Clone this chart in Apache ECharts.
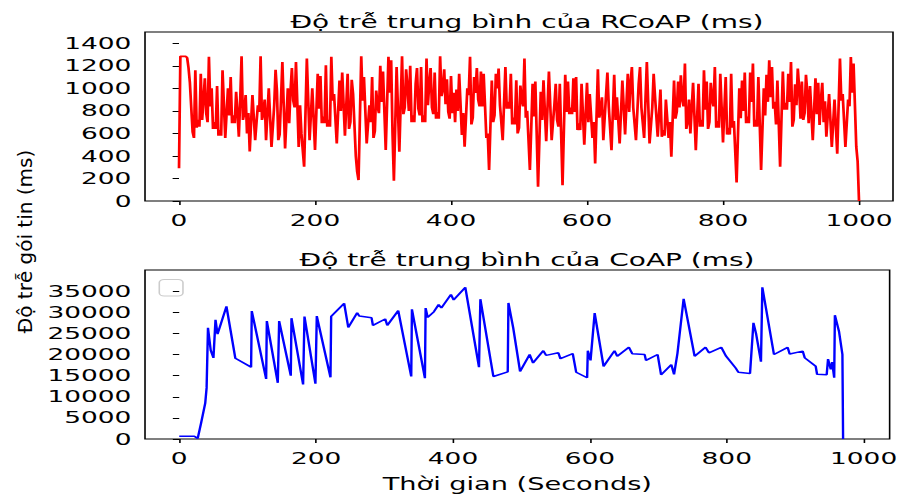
<!DOCTYPE html>
<html>
<head>
    <meta charset="utf-8">
    <title>Độ trễ RCoAP / CoAP</title>
    <script type="text/javascript" src="https://cdn.jsdelivr.net/npm/echarts@6/dist/echarts.min.js"></script>
    <style>
        html, body { margin: 0; padding: 0; background: #fff; overflow: hidden; }
        #wrap { width: 902px; height: 499px; overflow: hidden; }
        /* the source picture is stretched sideways, so the chart is drawn narrow and widened */
        #chart { width: 564px; height: 499px; transform: scaleX(1.5993); transform-origin: 0 0; }
    </style>
</head>
<body>
<div id="wrap"><div id="chart"></div></div>
<script type="text/javascript">
    // RCoAP readings at t = 0, 4, 8, ... 1000 s
    var rcoapStep = 4;
    var rcoapDelay = [
        290, 1284, 1284, 1270, 1050, 614, 1160, 720, 1130, 900, 780, 1280, 1000, 700, 1020, 630,
        1160, 560, 1000, 1100, 760, 970, 570, 1284, 780, 600, 440, 940, 540, 850, 1284, 780,
        540, 1000, 480, 850, 980, 590, 1234, 466, 1000, 980, 890, 1234, 480, 600, 304, 1264,
        540, 1000, 452, 1130, 1110, 750, 1204, 720, 1280, 950, 511, 1070, 1140, 580, 1130, 700,
        950, 400, 186, 1284, 1100, 510, 850, 1100, 620, 840, 1200, 1150, 452, 1280, 1250, 180,
        1190, 437, 1284, 830, 1010, 1200, 760, 1040, 820, 1190, 760, 1264, 1040, 830, 1140, 790,
        1284, 990, 860, 790, 1110, 960, 990, 1130, 585, 481, 1000, 1280, 740, 960, 900, 1150,
        1130, 560, 275, 1070, 760, 1000, 850, 540, 1190, 880, 1130, 740, 1072, 650, 900, 1264,
        800, 275, 1040, 1060, 127, 970, 1072, 530, 1150, 540, 850, 720, 1040, 141, 1120, 1060,
        830, 1090, 1100, 690, 1040, 500, 1050, 950, 560, 333, 1170, 800, 540, 940, 840, 450,
        1120, 920, 510, 1070, 590, 1130, 1050, 830, 540, 1040, 830, 560, 1234, 510, 830, 930,
        570, 990, 630, 900, 560, 393, 1070, 790, 830, 900, 1220, 700, 600, 1050, 450, 1040,
        720, 1160, 1060, 700, 900, 1190, 710, 1130, 520, 1100, 650, 1130, 710, 165, 1000, 1070,
        1140, 750, 1140, 1220, 720, 1100, 275, 1000, 1120, 1250, 1190, 880, 1070, 304, 1150, 870,
        1130, 1234, 720, 850, 1000, 1060, 780, 960, 1020, 540, 1090, 1050, 900, 700, 570, 950,
        480, 900, 420, 1264, 950, 480, 900, 1279, 1220, 480, 0
    ];
    // RCoAP readings in between, at t = 2, 6, 10, ... 998 s
    var rcoapDelayMid = [
        1284, 1284, 1284, 1180, 830, 560, 650, 660, 720, 1090,
        700, 840, 640, 640, 580, 580, 860, 780, 760, 690,
        690, 780, 900, 720, 940, 780, 700, 740, 700, 790,
        720, 900, 770, 740, 660, 1165, 540, 900, 850, 730,
        690, 1180, 830, 860, 850, 450, 780, 900, 770, 730,
        790, 820, 690, 690, 660, 660, 890, 730, 790, 800,
        860, 850, 640, 1075, 675, 260, 735, 890, 800, 680,
        700, 560, 980, 780, 880, 800, 860, 960, 600, 680,
        810, 860, 770, 1170, 800, 700, 700, 1180, 760, 700,
        700, 850, 1180, 770, 730, 730, 930, 1170, 1080, 730,
        780, 700, 800, 860, 780, 740, 940, 680, 1100, 1180,
        840, 840, 850, 600, 670, 700, 1130, 1175, 700, 865,
        820, 820, 680, 680, 600, 1025, 840, 740, 540, 650,
        750, 600, 550, 720, 800, 840, 845, 700, 1040, 660,
        590, 630, 790, 770, 770, 790, 630, 630, 770, 775,
        700, 755, 700, 750, 740, 920, 740, 1140, 645, 785,
        720, 715, 790, 830, 860, 790, 1190, 685, 790, 1190,
        695, 900, 870, 670, 1130, 750, 780, 570, 580, 730,
        700, 730, 730, 1060, 1115, 840, 640, 900, 825, 750,
        745, 660, 660, 810, 640, 1050, 840, 650, 650, 825,
        810, 590, 590, 650, 440, 580, 735, 800, 690, 690,
        880, 660, 660, 690, 640, 760, 880, 920, 820, 680,
        690, 730, 810, 810, 880, 660, 1035, 1175, 730, 720,
        1120, 690, 780, 815, 770, 675, 1050, 885, 760, 715,
        690, 660, 840, 890, 715, 690, 840, 960, 850, 350
    ];

    // CoAP: turning points of the blue line
    var coapTime = [
        0, 22, 27, 32, 38, 40, 42, 46, 50, 53, 56, 69, 82, 105, 106, 127, 128, 144, 146, 163,
        164, 181, 183, 199, 201, 221, 222, 241, 247, 260, 263, 281, 283, 301, 304, 320, 339, 340,
        359, 360, 363, 372, 379, 383, 397, 401, 418, 438, 440, 459, 480, 481, 488, 498, 512, 517,
        532, 536, 554, 557, 575, 580, 596, 597, 601, 607, 620, 636, 640, 657, 662, 680, 682, 699,
        704, 719, 723, 728, 737, 753, 769, 774, 792, 799, 813, 817, 834, 839, 843, 850, 852, 869,
        889, 892, 911, 914, 930, 932, 946, 948, 952, 954, 957, 958, 964, 969, 970
    ];
    var coapDelay = [
        650, 650, 150, 3800, 8500, 12100, 26300, 21000, 19200, 28200, 24800, 31400, 19100, 17000, 30300, 14200,
        27900, 13300, 27900, 15000, 28600, 12900, 29000, 13100, 29100, 14600, 29000, 32100, 26400, 29900, 29100,
        28700, 26900, 28400, 26900, 30400, 14800, 30700, 14400, 31000, 28800, 30100, 31800, 31000, 34200, 32900,
        35900, 17000, 33100, 14800, 15900, 32200, 26300, 16000, 20000, 18000, 20900, 19800, 20400, 19000, 20200,
        15800, 14500, 20900, 18600, 29800, 17200, 20900, 19600, 21700, 20200, 20000, 18600, 20000, 15200, 17600,
        15300, 20300, 33200, 19600, 21700, 20400, 21700, 19600, 16800, 15800, 15500, 27500, 24800, 18300, 35900,
        20000, 21700, 20100, 20800, 19200, 17200, 15300, 15200, 18900, 16500, 18200, 14500, 29300, 25500, 20000, 0
    ];

    var xTicks = [0, 200, 400, 600, 800, 1000];
    var rcoapTicks = [0, 200, 400, 600, 800, 1000, 1200, 1400];
    var coapTicks = [0, 5000, 10000, 15000, 20000, 25000, 30000, 35000];

    var titleTop = 'Độ trễ trung bình của RCoAP (ms)';
    var titleBottom = 'Độ trễ trung bình của CoAP (ms)';
    var xName = 'Thời gian (Seconds)';
    var yName = 'Độ trễ gói tin (ms)';

    var font = 'DejaVu Sans';

    var rcoapData = [];
    for (var i = 0; i < rcoapDelay.length; i++) {
        rcoapData.push([i * rcoapStep, rcoapDelay[i]]);
        if (i < rcoapDelayMid.length) {
            rcoapData.push([i * rcoapStep + rcoapStep / 2, rcoapDelayMid[i]]);
        }
    }
    var coapData = [];
    for (var j = 0; j < coapTime.length; j++) {
        coapData.push([coapTime[j], coapDelay[j]]);
    }

    function plain(v) {
        return String(v);
    }

    function xAxisOf(grid, max, name) {
        return {
            type: 'value',
            gridIndex: grid,
            min: -50,
            max: max,
            name: name,
            nameLocation: 'middle',
            nameGap: 36,
            nameTextStyle: {fontFamily: font, fontSize: 17, color: '#000'},
            axisLine: {show: false},
            axisTick: {show: true, length: 4, customValues: xTicks, lineStyle: {color: '#000'}},
            axisLabel: {customValues: xTicks, formatter: plain, margin: 11, fontFamily: font, fontSize: 16.5, color: '#000'},
            splitLine: {show: false}
        };
    }

    function yAxisOf(grid, max, ticks) {
        return {
            type: 'value',
            gridIndex: grid,
            min: 0,
            max: max,
            axisLine: {show: false},
            axisTick: {show: true, length: 4, customValues: ticks, lineStyle: {color: '#000'}},
            axisLabel: {customValues: ticks, formatter: plain, margin: 8.5, fontFamily: font, fontSize: 16.5, color: '#000'},
            splitLine: {show: false}
        };
    }

    var chart = echarts.init(document.getElementById('chart'), null, {renderer: 'svg'});
    var option = {
        animation: false,
        backgroundColor: '#fff',
        title: [{
            text: titleTop,
            left: 324.5,
            textAlign: 'center',
            top: 8,
            textStyle: {fontFamily: font, fontSize: 17.5, fontWeight: 'normal', color: '#000'}
        }, {
            text: titleBottom,
            left: 324.5,
            textAlign: 'center',
            top: 246,
            textStyle: {fontFamily: font, fontSize: 17.5, fontWeight: 'normal', color: '#000'}
        }],
        grid: [
            {left: 90.67, top: 32, width: 467.7, height: 169, show: true, borderColor: '#000', borderWidth: 1},
            {left: 90.67, top: 270, width: 467.7, height: 169, show: true, borderColor: '#000', borderWidth: 1}
        ],
        xAxis: [xAxisOf(0, 1050, ''), xAxisOf(1, 1038, xName)],
        yAxis: [yAxisOf(0, 1500, rcoapTicks), yAxisOf(1, 40000, coapTicks)],
        graphic: [{
            type: 'text',
            x: 15.6,
            y: 241.5,
            rotation: Math.PI / 2,
            scaleY: 0.63,
            style: {text: yName, fontFamily: font, fontSize: 20, fill: '#000', align: 'center', verticalAlign: 'middle'}
        }, {
            // empty legend frame
            type: 'rect',
            shape: {x: 99.6, y: 279.5, width: 14.8, height: 16.5, r: 3},
            style: {fill: '#fff', stroke: '#cccccc', lineWidth: 1}
        }],
        series: [{
            name: 'RCoAP',
            type: 'line',
            xAxisIndex: 0,
            yAxisIndex: 0,
            data: rcoapData,
            symbol: 'none',
            lineStyle: {color: '#ff0000', width: 1.7},
            itemStyle: {color: '#ff0000'}
        }, {
            name: 'CoAP',
            type: 'line',
            xAxisIndex: 1,
            yAxisIndex: 1,
            data: coapData,
            symbol: 'none',
            lineStyle: {color: '#0000ff', width: 1.5},
            itemStyle: {color: '#0000ff'}
        }]
    };
    chart.setOption(option);
</script>
</body>
</html>
